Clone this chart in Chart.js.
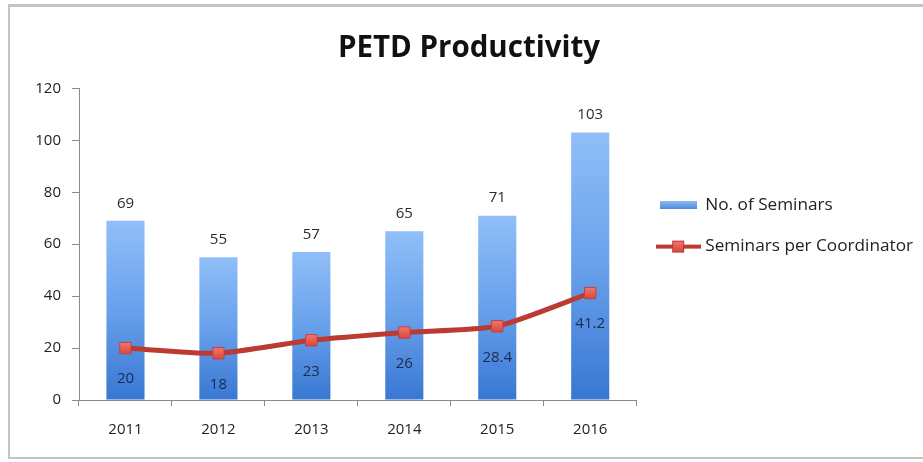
<!DOCTYPE html>
<html>
<head>
<meta charset="utf-8">
<script src="https://cdn.jsdelivr.net/npm/chart.js@4"></script>
<style>
  html, body { margin: 0; padding: 0; background: #fff; }
  #wrap { width: 923px; height: 462px; position: relative; }
</style>
</head>
<body>
<div id="wrap"><canvas id="c" width="923" height="462"></canvas></div>
<script>
const categories = ['2011', '2012', '2013', '2014', '2015', '2016'];
const seminars = [69, 55, 57, 65, 71, 103];
const perCoordinator = [20, 18, 23, 26, 28.4, 41.2];
const yTicks = [0, 20, 40, 60, 80, 100, 120];
const seriesNames = ['No. of Seminars', 'Seminars per Coordinator'];
const titleText = 'PETD Productivity';

const FONT = '"Open Sans", Lato, sans-serif';
const TICK_SIZE = 15;
const LEGEND_SIZE = 17.2;
const TITLE_SIZE = 29.5;

function makeBarIcon() {
  const c = document.createElement('canvas');
  c.width = 37; c.height = 8;
  const g = c.getContext('2d');
  const gr = g.createLinearGradient(0, 0, 0, 8);
  gr.addColorStop(0, '#8ab8f2');
  gr.addColorStop(1, '#4a86d8');
  g.fillStyle = gr; g.fillRect(0, 0, 37, 8);
  return c;
}
function makeLineIcon() {
  const c = document.createElement('canvas');
  c.width = 45; c.height = 14;
  const g = c.getContext('2d');
  g.fillStyle = '#bb3a32';
  g.fillRect(0, 5, 45, 4);
  const gr = g.createLinearGradient(0, 1, 0, 13);
  gr.addColorStop(0, '#f47a6e');
  gr.addColorStop(1, '#d8403a');
  g.fillStyle = gr;
  g.fillRect(16, 1, 12, 12);
  g.strokeStyle = '#b83a34'; g.lineWidth = 1;
  g.strokeRect(16.5, 1.5, 11, 11);
  return c;
}

function barGradient(ctx) {
  const chart = ctx.chart;
  if (!chart.chartArea || ctx.type !== 'data') return '#5b93e3';
  const ys = chart.scales.y;
  const top = ys.getPixelForValue(ctx.raw);
  const base = ys.getPixelForValue(0);
  const gr = chart.ctx.createLinearGradient(0, top, 0, base);
  gr.addColorStop(0, '#90bff8');
  gr.addColorStop(0.5, '#68a0eb');
  gr.addColorStop(1, '#3877d2');
  return gr;
}

function markerGradient(ctx) {
  const chart = ctx.chart;
  if (!chart.chartArea || ctx.type !== 'data') return '#e8554b';
  const y = chart.scales.y.getPixelForValue(ctx.raw);
  const gr = chart.ctx.createLinearGradient(0, y - 8, 0, y + 8);
  gr.addColorStop(0, '#f68276');
  gr.addColorStop(1, '#d63c36');
  return gr;
}

const framePlugin = {
  id: 'frame',
  beforeDraw(chart) {
    const c = chart.ctx;
    c.save();
    c.fillStyle = '#fff';
    c.fillRect(0, 0, chart.width, chart.height);
    c.fillStyle = '#c4c4c4';
    c.fillRect(8, 4, chart.width - 8, 3);
    c.fillRect(8, 4, 2, chart.height - 8);
    c.fillRect(8, chart.height - 5, chart.width - 8, 2);
    c.restore();
  }
};

const labelPlugin = {
  id: 'valueLabels',
  afterDatasetsDraw(chart) {
    const c = chart.ctx;
    c.save();
    c.font = TICK_SIZE + 'px ' + FONT;
    c.textAlign = 'center';
    const barMeta = chart.getDatasetMeta(0);
    c.fillStyle = '#2b2b2b';
    c.textBaseline = 'bottom';
    barMeta.data.forEach((el, i) => {
      c.fillText(String(seminars[i]), el.x, el.y - 10);
    });
    const lineMeta = chart.getDatasetMeta(1);
    c.fillStyle = '#1c2a4e';
    c.textBaseline = 'middle';
    lineMeta.data.forEach((el, i) => {
      c.fillText(String(perCoordinator[i]), el.x, el.y + 31);
    });
    c.restore();
  }
};

function build() {
  const barIcon = makeBarIcon();
  const lineIcon = makeLineIcon();

  // reserve room so the legend starts just right of the plot area
  const mc = document.createElement('canvas').getContext('2d');
  mc.font = LEGEND_SIZE + 'px ' + FONT;
  const textW = Math.max(...seriesNames.map(s => mc.measureText(s).width));
  const legendPad = 24, boxW = 36;
  const legendW = legendPad + boxW + LEGEND_SIZE / 2 + textW + 10;
  const plotLeft = 79, plotRight = 637;
  const padRight = Math.max(0, 923 - plotRight - legendW);
  const padLeft = 15 + padRight;

  new Chart(document.getElementById('c'), {
    data: {
      labels: categories,
      datasets: [
        {
          type: 'bar',
          label: seriesNames[0],
          data: seminars,
          backgroundColor: barGradient,
          borderWidth: 0,
          categoryPercentage: 1,
          barPercentage: 0.41,
          order: 1
        },
        {
          type: 'line',
          label: seriesNames[1],
          data: perCoordinator,
          borderColor: '#bb3a32',
          borderWidth: 5,
          tension: 0.2,
          pointStyle: 'rect',
          pointRadius: 8,
          pointBorderWidth: 1,
          pointBorderColor: '#c0443c',
          pointBackgroundColor: markerGradient,
          order: 0
        }
      ]
    },
    options: {
      responsive: false,
      animation: false,
      layout: { padding: { left: padLeft, right: padRight, top: 0, bottom: 10 } },
      plugins: {
        tooltip: { enabled: false },
        title: {
          display: true,
          text: titleText,
          color: '#111',
          font: { family: FONT, size: TITLE_SIZE, weight: 'bold', lineHeight: 1.2 },
          padding: { top: 31, bottom: 22 }
        },
        legend: {
          display: true,
          position: 'right',
          align: 'center',
          maxWidth: 400,
          labels: {
            usePointStyle: true,
            pointStyleWidth: boxW,
            padding: legendPad,
            color: '#222',
            font: { family: FONT, size: LEGEND_SIZE },
            generateLabels() {
              return [
                { text: seriesNames[0], pointStyle: barIcon, datasetIndex: 0, fillStyle: '#5b93e3', strokeStyle: 'transparent', lineWidth: 0, fontColor: '#222' },
                { text: seriesNames[1], pointStyle: lineIcon, datasetIndex: 1, fillStyle: '#bb3a32', strokeStyle: 'transparent', lineWidth: 0, fontColor: '#222' }
              ];
            }
          }
        }
      },
      scales: {
        x: {
          grid: { display: true, offset: true, drawOnChartArea: false, drawTicks: true, tickLength: 6, color: '#8a8a8a' },
          border: { display: true, color: '#8a8a8a', width: 1 },
          ticks: { color: '#222', font: { family: FONT, size: TICK_SIZE }, padding: 15 },
          afterFit(s) { s.height = 52; }
        },
        y: {
          min: yTicks[0],
          max: yTicks[yTicks.length - 1],
          ticks: { stepSize: yTicks[1] - yTicks[0], color: '#222', font: { family: FONT, size: TICK_SIZE }, padding: 11 },
          grid: { display: true, drawOnChartArea: false, drawTicks: true, tickLength: 7, color: '#8a8a8a' },
          border: { display: true, color: '#8a8a8a', width: 1 },
          afterFit(s) { s.width = plotLeft - padLeft; }
        }
      }
    },
    plugins: [framePlugin, labelPlugin]
  });
}

const fontLoads = [
  TICK_SIZE + 'px "Open Sans"', LEGEND_SIZE + 'px "Open Sans"', 'bold ' + TITLE_SIZE + 'px "Open Sans"'
].map(f => document.fonts.load(f).catch(() => null));
Promise.all(fontLoads).then(build, build);
</script>
</body>
</html>
